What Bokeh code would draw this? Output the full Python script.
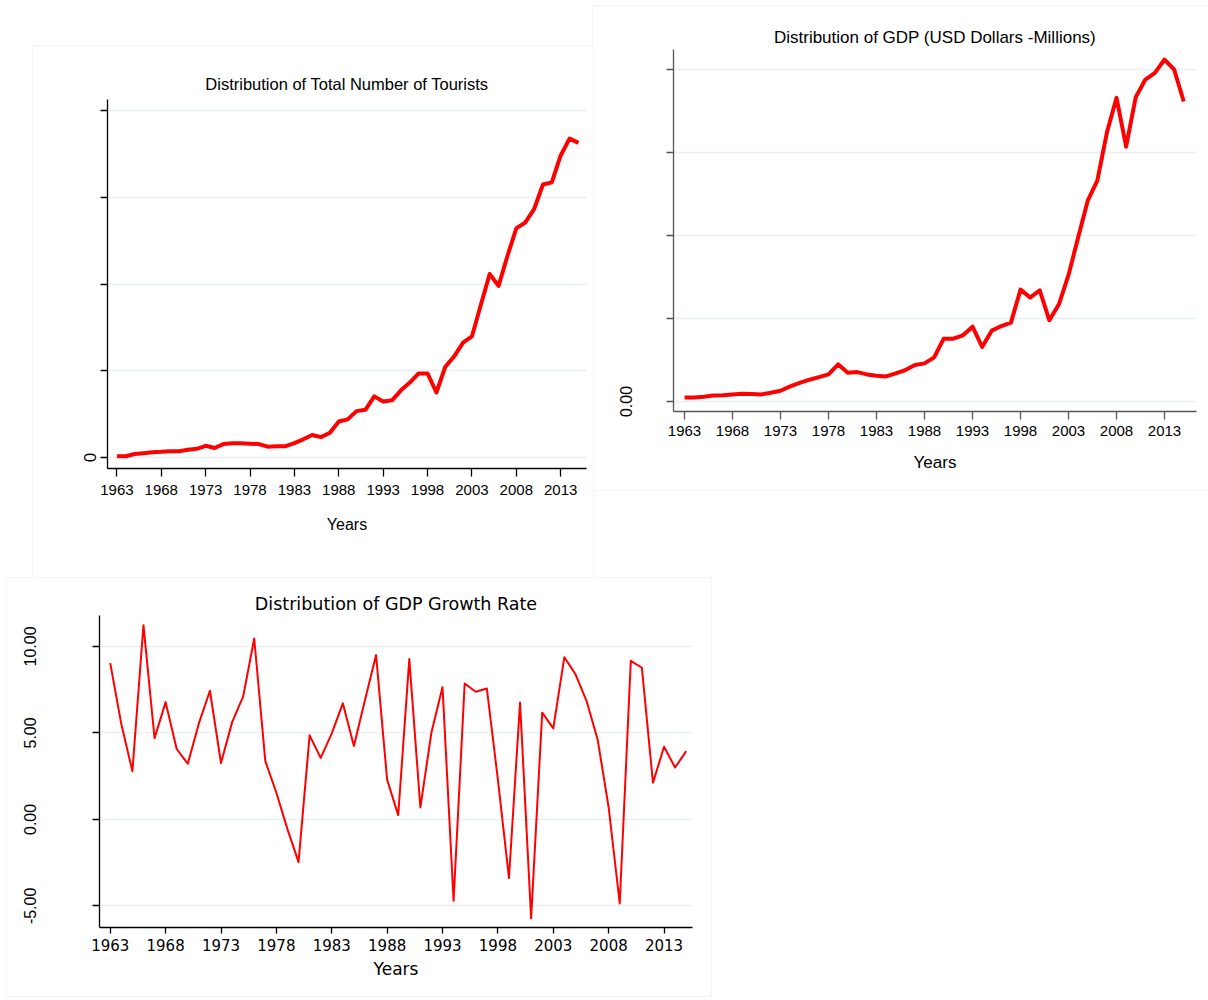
from bokeh.plotting import figure
from bokeh.models import FixedTicker, Range1d, NumeralTickFormatter
from bokeh.embed import file_html
from bokeh.resources import INLINE

years = list(range(1963, 2016))
year_ticks = [1963, 1968, 1973, 1978, 1983, 1988, 1993, 1998, 2003, 2008, 2013]

# Total number of tourists (in units of the unlabeled gridlines)
tourists = [0.015, 0.015, 0.04, 0.05, 0.06, 0.065, 0.073, 0.073, 0.09, 0.10,
            0.135, 0.11, 0.155, 0.165, 0.165, 0.16, 0.155, 0.125, 0.13, 0.13,
            0.165, 0.21, 0.26, 0.235, 0.285, 0.415, 0.44, 0.535, 0.55, 0.705,
            0.645, 0.66, 0.775, 0.865, 0.97, 0.97, 0.75, 1.047, 1.167, 1.325,
            1.397, 1.76, 2.117, 1.98, 2.325, 2.645, 2.71, 2.865, 3.15, 3.175,
            3.485, 3.68, 3.63]

# GDP (in units of the unlabeled gridlines)
gdp = [0.048, 0.048, 0.056, 0.072, 0.076, 0.085, 0.093, 0.089, 0.085, 0.105,
       0.129, 0.181, 0.225, 0.262, 0.294, 0.326, 0.447, 0.346, 0.354, 0.326,
       0.31, 0.302, 0.338, 0.378, 0.439, 0.459, 0.531, 0.757, 0.757, 0.797,
       0.901, 0.656, 0.853, 0.909, 0.95, 1.348, 1.252, 1.34, 0.978, 1.171,
       1.525, 1.976, 2.419, 2.66, 3.243, 3.658, 3.07, 3.666, 3.879, 3.96,
       4.12, 4.0, 3.614]

# GDP growth rate (%)
growth = [9.04, 5.51, 2.79, 11.23, 4.70, 6.78, 4.07, 3.22, 5.55, 7.44,
          3.26, 5.61, 7.11, 10.46, 3.37, 1.54, -0.56, -2.47, 4.86, 3.56,
          4.97, 6.71, 4.24, 6.9, 9.50, 2.29, 0.25, 9.27, 0.69, 5.03,
          7.65, -4.70, 7.86, 7.38, 7.57, 2.3, -3.39, 6.76, -5.72, 6.17,
          5.26, 9.38, 8.40, 6.86, 4.64, 0.69, -4.86, 9.17, 8.77, 2.12,
          4.20, 3.0, 3.95]

GRID = "#e8f0f2"
PANEL_BORDER = "1px solid #f5f5f5"


def make_fig(title, left, top, width, height, mb, xr, yr, yticks, font,
             title_size, tick_size, label_size, axis_color):
    p = figure(width=width, height=height, output_backend="svg",
               toolbar_location=None, x_range=Range1d(*xr), y_range=Range1d(*yr),
               min_border_left=mb[0], min_border_right=mb[1],
               min_border_top=mb[2], min_border_bottom=mb[3])
    p.styles = {"position": "absolute", "left": f"{left}px", "top": f"{top}px",
                "outline": PANEL_BORDER}
    p.title.text = title
    p.title.align = "center"
    p.title.text_font = font
    p.title.text_font_size = title_size
    p.title.text_font_style = "normal"
    p.title.text_color = "black"
    p.outline_line_color = None
    p.xgrid.grid_line_color = None
    p.ygrid.grid_line_color = GRID
    p.ygrid.grid_line_width = 1.5
    p.xaxis.ticker = FixedTicker(ticks=year_ticks)
    p.yaxis.ticker = FixedTicker(ticks=yticks)
    for ax in (p.xaxis[0], p.yaxis[0]):
        ax.axis_line_color = axis_color
        ax.axis_line_width = 1.3
        ax.major_tick_line_color = axis_color
        ax.major_tick_line_width = 1.3
        ax.major_tick_in = 0
        ax.major_tick_out = 7
        ax.minor_tick_line_color = None
        ax.major_label_text_color = "black"
        ax.axis_label_text_color = "black"
        ax.axis_label_text_font_style = "normal"
    p.xaxis.axis_label = "Years"
    p.xaxis.axis_label_text_font = font
    p.xaxis.axis_label_text_font_size = label_size
    p.xaxis.major_label_text_font = font
    p.xaxis.major_label_text_font_size = tick_size
    p.yaxis.major_label_orientation = "vertical"
    p.background_fill_color = "white"
    p.border_fill_color = "white"
    return p


# Panel 1: tourists
p1 = make_fig("Distribution of Total Number of Tourists", 33, 46, 560, 531,
              (74, 7, 53, 109), (1961.94, 2015.91), (-0.127, 4.131),
              [0, 1, 2, 3, 4], "Liberation Sans", "16.5px", "15px", "16px",
              "black")
p1.title.standoff = 14
p1.xaxis.major_tick_out = 8
p1.xaxis.major_label_standoff = 8
p1.xaxis.axis_label_standoff = 18
p1.yaxis.major_label_overrides = {0: "0", 1: "", 2: "", 3: "", 4: ""}
p1.yaxis.major_label_text_font = "Liberation Sans"
p1.yaxis.major_label_text_font_size = "17px"
p1.yaxis.major_label_standoff = 4
p1.line(years, tourists, line_color="#ff0000", line_width=4, line_join="round")

# Panel 2: GDP
p2 = make_fig("Distribution of GDP (USD Dollars -Millions)", 593, 6, 615, 484,
              (80, 12, 43, 79), (1961.85, 2016.33), (-0.121, 4.241),
              [0, 1, 2, 3, 4], "Liberation Sans", "17px", "15px", "17px",
              "#555555")
p2.title.standoff = 6
p2.xaxis.major_tick_out = 8
p2.xaxis.major_label_standoff = 6
p2.xaxis.axis_label_standoff = 14
p2.yaxis.major_label_overrides = {0: "0.00", 1: "", 2: "", 3: "", 4: ""}
p2.yaxis.major_label_text_font = "Liberation Sans"
p2.yaxis.major_label_text_font_size = "16px"
p2.yaxis.major_label_standoff = 34
p2.line(years, gdp, line_color="#ff0000", line_width=4, line_join="round")

# Panel 3: GDP growth rate
p3 = make_fig("Distribution of GDP Growth Rate", 7, 578, 704, 418,
              (92, 19, 37, 69), (1962.03, 2015.57), (-6.25, 11.79),
              [-5, 0, 5, 10], "DejaVu Sans", "17.5px", "15px", "17px", "black")
p3.title.standoff = 3
p3.xaxis.major_tick_out = 6
p3.xaxis.major_label_standoff = 5
p3.xaxis.axis_label_standoff = 5
p3.yaxis.formatter = NumeralTickFormatter(format="0.00")
p3.yaxis.major_label_text_font = "Liberation Sans"
p3.yaxis.major_label_text_font_size = "16px"
p3.yaxis.major_label_standoff = 56
p3.line(years, growth, line_color="#ff0000", line_width=2, line_join="round")

open("out.html", "w").write(file_html([p2, p1, p3], INLINE))
